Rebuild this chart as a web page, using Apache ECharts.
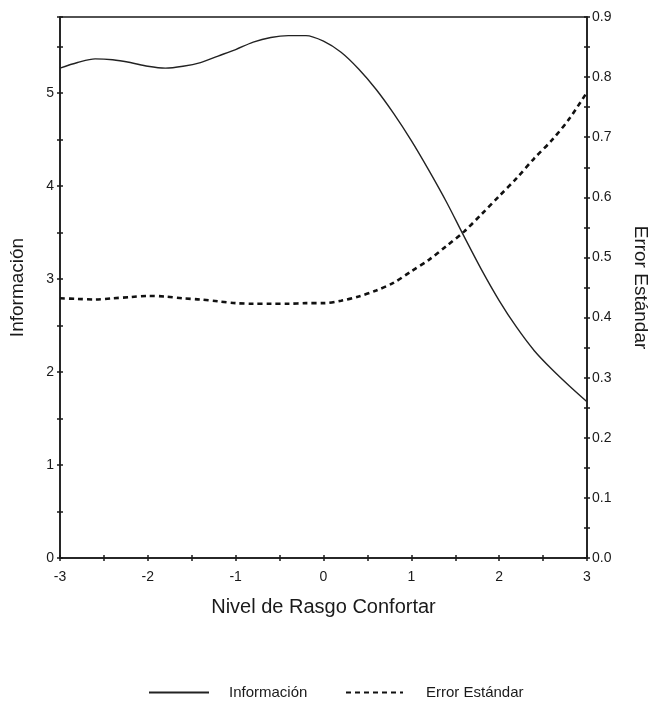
<!DOCTYPE html>
<html>
<head>
<meta charset="utf-8">
<script src="https://cdn.jsdelivr.net/npm/echarts@6/dist/echarts.min.js"></script>
<style>html,body{margin:0;padding:0;background:#fff;overflow:hidden;}#c{width:651px;height:703px;}</style>
</head>
<body>
<div id="c"></div>
<script>
var theta = [-3.0,-2.8,-2.6,-2.4,-2.2,-2.0,-1.8,-1.6,-1.4,-1.2,-1.0,-0.8,-0.6,-0.4,-0.2,0.0,0.2,0.4,0.6,0.8,1.0,1.2,1.4,1.6,1.8,2.0,2.2,2.4,2.6,2.8,3.0];
var informacion = [5.27,5.33,5.37,5.36,5.33,5.29,5.27,5.29,5.33,5.40,5.47,5.55,5.60,5.62,5.62,5.56,5.44,5.26,5.04,4.78,4.49,4.17,3.83,3.46,3.10,2.77,2.48,2.23,2.03,1.85,1.68];
var errorEstandar = [0.432,0.431,0.430,0.432,0.434,0.436,0.435,0.432,0.430,0.427,0.424,0.423,0.423,0.423,0.424,0.424,0.428,0.435,0.445,0.458,0.477,0.496,0.519,0.543,0.572,0.602,0.632,0.665,0.695,0.731,0.775];
var seriesNames = ['Información','Error Estándar'];
var xTitle = 'Nivel de Rasgo Confortar';

var FONT = "'Liberation Sans', Arial, sans-serif";
var INK = '#1a1a1a';
var chart = echarts.init(document.getElementById('c'), null, {renderer:'canvas'});

function xAx(ticksInside, main){
  return {
    type:'value', min:-3, max:3, interval:0.5, position:'bottom',
    name: main ? xTitle : '', nameLocation:'middle', nameGap:39,
    nameTextStyle:{fontFamily:FONT, fontSize:20, color:INK},
    axisLine:{show:main, onZero:false, lineStyle:{color:INK, width:1.5}},
    axisTick:{show:true, inside:ticksInside, length:3, lineStyle:{color:INK, width:1.5}},
    axisLabel:{show:main, fontFamily:FONT, fontSize:14, color:INK, margin:12,
      formatter:function(v){return Math.abs(v-Math.round(v))<1e-6 ? String(Math.round(v)) : '';}},
    splitLine:{show:false}
  };
}
function yLeft(ticksInside, main){
  return {
    type:'value', min:0, max:5.82, interval:0.5, position:'left',
    name: main ? seriesNames[0] : '', nameLocation:'middle', nameGap:33, nameRotate:90,
    nameTextStyle:{fontFamily:FONT, fontSize:19, color:INK},
    axisLine:{show:main, onZero:false, lineStyle:{color:INK, width:1.5}},
    axisTick:{show:true, inside:ticksInside, length:3, lineStyle:{color:INK, width:1.5}},
    axisLabel:{show:main, fontFamily:FONT, fontSize:14, color:INK, margin:6,
      formatter:function(v){return Math.abs(v-Math.round(v))<1e-6 ? String(Math.round(v)) : '';}},
    splitLine:{show:false}
  };
}
function yRight(ticksInside, main){
  return {
    type:'value', min:0, max:0.9, interval:0.05, position:'right',
    name: main ? seriesNames[1] : '', nameLocation:'middle', nameGap:44, nameRotate:-90,
    nameTextStyle:{fontFamily:FONT, fontSize:19, color:INK},
    axisLine:{show:main, onZero:false, lineStyle:{color:INK, width:1.5}},
    axisTick:{show:true, inside:ticksInside, length:3, lineStyle:{color:INK, width:1.5}},
    axisLabel:{show:main, fontFamily:FONT, fontSize:14, color:INK, margin:5,
      formatter:function(v){var t=v*10; return Math.abs(t-Math.round(t))<1e-6 ? v.toFixed(1) : '';}},
    splitLine:{show:false}
  };
}

var option = {
  backgroundColor:'#fff',
  animation:false,
  grid:{left:60, right:64, top:17, bottom:145, show:true, borderColor:INK, borderWidth:1.5,
        backgroundColor:'transparent', containLabel:false, outerBoundsMode:'none'},
  xAxis:[xAx(false,true), xAx(true,false)],
  yAxis:[yLeft(false,true), yRight(false,true), yLeft(true,false), yRight(true,false)],
  legend:[
    {data:[seriesNames[0]], left:148, top:685, padding:0, itemWidth:60, itemHeight:14,
     itemStyle:{opacity:0},
     textStyle:{fontFamily:FONT, fontSize:15, color:INK, padding:[0,0,0,15]}},
    {data:[seriesNames[1]], left:345, top:685, padding:0, itemWidth:57, itemHeight:14,
     itemStyle:{opacity:0},
     textStyle:{fontFamily:FONT, fontSize:15, color:INK, padding:[0,0,0,18]}}
  ],
  series:[
    {name:seriesNames[0], type:'line', xAxisIndex:0, yAxisIndex:0, symbol:'none', smooth:0.3,
     lineStyle:{color:'#222', width:1.4, type:'solid'}, itemStyle:{color:'#222'},
     data: theta.map(function(t,i){return [t, informacion[i]];})},
    {name:seriesNames[1], type:'line', xAxisIndex:0, yAxisIndex:1, symbol:'none', smooth:0.3,
     lineStyle:{color:'#111', width:2.6, type:[5,4]}, itemStyle:{color:'#111'},
     data: theta.map(function(t,i){return [t, errorEstandar[i]];})}
  ]
};
chart.setOption(option);
</script>
</body>
</html>
